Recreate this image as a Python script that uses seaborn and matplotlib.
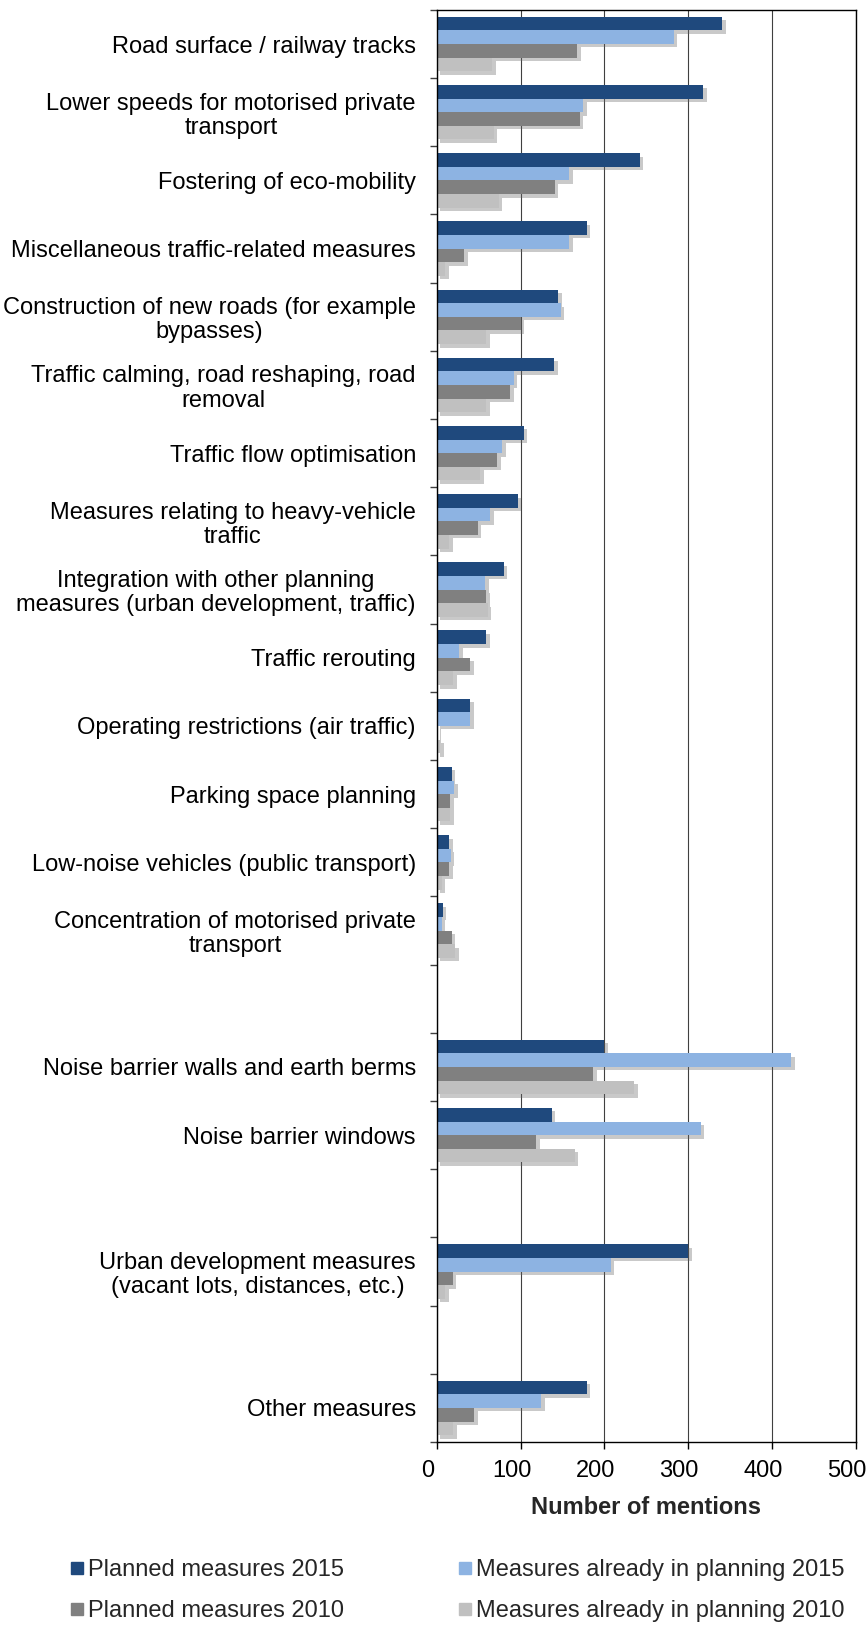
import numpy as np
import pandas as pd
import matplotlib.pyplot as plt
import matplotlib.patheffects as pe
import matplotlib.transforms as mtransforms
from matplotlib.patches import Patch
from matplotlib.ticker import FixedLocator
import seaborn as sns

# Measures (top to bottom)
categories = [
    'Road surface / railway tracks',
    'Lower speeds for motorised private\ntransport',
    'Fostering of eco-mobility',
    'Miscellaneous traffic-related measures',
    'Construction of new roads (for example\nbypasses)',
    'Traffic calming, road reshaping, road\nremoval',
    'Traffic flow optimisation',
    'Measures relating to heavy-vehicle\ntraffic',
    'Integration with other planning\nmeasures (urban development, traffic)',
    'Traffic rerouting',
    'Operating restrictions (air traffic)',
    'Parking space planning',
    'Low-noise vehicles (public transport)',
    'Concentration of motorised private\ntransport',
    'Noise barrier walls and earth berms',
    'Noise barrier windows',
    'Urban development measures\n(vacant lots, distances, etc.)',
    'Other measures',
]

planned_2015 = [341, 318, 242, 179, 145, 140, 104, 97, 80, 59, 40, 18, 15, 7, 200, 137, 300, 179]
planning_2015 = [283, 175, 158, 158, 148, 92, 78, 64, 58, 27, 40, 21, 17, 6, 423, 315, 208, 125]
planned_2010 = [168, 171, 141, 33, 100, 88, 72, 49, 59, 40, 1, 16, 15, 18, 187, 119, 19, 45]
planning_2010 = [66, 68, 74, 10, 59, 59, 52, 15, 61, 20, 4, 16, 6, 22, 236, 165, 10, 20]

series = ['Planned measures 2015', 'Measures already in planning 2015',
          'Planned measures 2010', 'Measures already in planning 2010']
colors = ['#1F497D', '#8DB3E2', '#808080', '#C0C0C0']

# empty slots separate the groups of measures
slots = categories[:14] + [' '] + categories[14:16] + ['  '] + categories[16:17] + ['   '] + categories[17:]

rows = []
for s, vals in zip(series, [planned_2015, planning_2015, planned_2010, planning_2010]):
    for c, v in zip(categories, vals):
        rows.append({'Measure': c, 'Series': s, 'Mentions': v})
df = pd.DataFrame(rows)

sns.set_style('white')
plt.rcParams['font.family'] = ['Liberation Sans', 'DejaVu Sans']
FS = 17

fig = plt.figure(figsize=(8.66, 16.25), dpi=100)
ax = fig.add_axes([0.5043, 0.1126, 0.4838, 0.8813])

sns.barplot(data=df, x='Mentions', y='Measure', hue='Series', order=slots,
            hue_order=series, palette=colors, orient='h', width=0.8,
            linewidth=0, saturation=1, legend=False, ax=ax)

# soft drop shadow on the bars
for p in ax.patches:
    p.set_path_effects([pe.SimplePatchShadow(offset=(2.5, -2.5), shadow_rgbFace='#666666', alpha=0.35),
                        pe.Normal()])

ax.set_xlim(0, 500)
ax.set_xticks(range(0, 501, 100))
ax.set_axisbelow(True)
ax.xaxis.grid(True, color='#404040', lw=0.8)
ax.yaxis.grid(False)

for sp in ax.spines.values():
    sp.set_visible(True)
    sp.set_color('black')
    sp.set_linewidth(1)

ax.tick_params(axis='y', which='major', length=0, pad=15, labelsize=FS, labelcolor='black')
ax.yaxis.set_minor_locator(FixedLocator(np.arange(-0.5, len(slots), 1)))
ax.tick_params(axis='y', which='minor', left=True, length=5, width=1, color='#404040', direction='out')
for t in ax.get_yticklabels():
    t.set_multialignment('center')
    t.set_linespacing(1.12)

ax.tick_params(axis='x', bottom=True, length=5, width=1, color='black', direction='out',
               labelsize=FS, pad=8, labelcolor='black')
# x tick labels sit a little left of their ticks in the original
shift = mtransforms.ScaledTranslation(-9 / 100, 0, fig.dpi_scale_trans)
for t in ax.get_xticklabels():
    t.set_transform(t.get_transform() + shift)

ax.set_ylabel('')
ax.set_xlabel('Number of mentions', fontsize=FS, fontweight='bold', labelpad=10)

handles = [Patch(color=c) for c in colors]
order = [0, 2, 1, 3]
fig.legend([handles[i] for i in order], [series[i] for i in order],
           loc='upper left', bbox_to_anchor=(0.082, 0.0405), ncol=2, frameon=False,
           fontsize=FS, handlelength=0.52, handleheight=0.4, handletextpad=0.2,
           columnspacing=4.85, labelspacing=0.8, borderpad=0, borderaxespad=0)

fig.savefig('out.png', dpi=100)
